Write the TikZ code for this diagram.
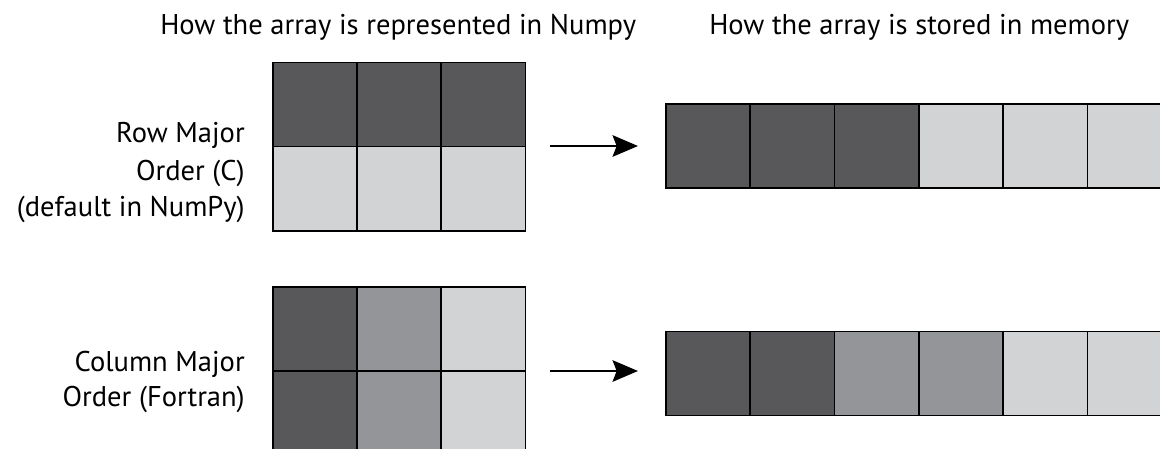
\documentclass[tikz,border=0pt]{standalone}
\usepackage{fontspec}
\setmainfont{PT Sans}
\usetikzlibrary{arrows.meta}
\definecolor{darkc}{HTML}{58585A}
\definecolor{midc}{HTML}{939598}
\definecolor{lightc}{HTML}{D1D3D4}
\begin{document}
\begin{tikzpicture}[x=0.75pt,y=-0.75pt,
  cell/.style={draw=black,line width=1.2pt,minimum width=63.2pt,minimum height=63.2pt,inner sep=0pt,outer sep=0pt},
  dk/.style={cell,fill=darkc},
  md/.style={cell,fill=midc},
  lt/.style={cell,fill=lightc},
  lbl/.style={align=right,anchor=base east,inner sep=0pt},
  ttl/.style={anchor=base west,inner sep=0pt,font=\fontsize{21.4pt}{25pt}\selectfont},
  arr/.style={line width=2.2pt,-{Stealth[length=19pt,width=16pt,inset=3pt]}}]
\useasboundingbox (0,0) rectangle (1160,449);
\fill[white] (0,0) rectangle (1160,449);
% titles
\node[ttl] (t1) at (160,35) {How the array is represented in Numpy};
\node[ttl] (t2) at (709,35) {How the array is stored in memory};
% labels
\node[lbl,font=\fontsize{21.4pt}{27.75pt}\selectfont] (l1) at (245,217) {Row Major\\Order (C)\\(default in NumPy)};
\node[lbl,font=\fontsize{21.4pt}{25.7pt}\selectfont] (l2) at (245,406) {Column Major\\Order (Fortran)};
% row-major matrix
\node[dk] (a11) at (314.85,104.45) {};
\node[dk] (a12) at (399.15,104.45) {};
\node[dk] (a13) at (483.45,104.45) {};
\node[lt] (a21) at (314.85,188.75) {};
\node[lt] (a22) at (399.15,188.75) {};
\node[lt] (a23) at (483.45,188.75) {};
% column-major matrix
\node[dk] (b11) at (314.85,328.85) {};
\node[md] (b12) at (399.15,328.85) {};
\node[lt] (b13) at (483.45,328.85) {};
\node[dk] (b21) at (314.85,413.15) {};
\node[md] (b22) at (399.15,413.15) {};
\node[lt] (b23) at (483.45,413.15) {};
% memory row-major
\node[dk] (m1) at (708.15,146.15) {};
\node[dk] (m2) at (792.45,146.15) {};
\node[dk] (m3) at (876.75,146.15) {};
\node[lt] (m4) at (961.05,146.15) {};
\node[lt] (m5) at (1045.35,146.15) {};
\node[lt] (m6) at (1129.65,146.15) {};
% memory column-major
\node[dk] (n1) at (708.15,373.5) {};
\node[dk] (n2) at (792.45,373.5) {};
\node[md] (n3) at (876.75,373.5) {};
\node[md] (n4) at (961.05,373.5) {};
\node[lt] (n5) at (1045.35,373.5) {};
\node[lt] (n6) at (1129.65,373.5) {};
% arrows
\coordinate (s1) at (550,146);
\coordinate (e1) at (638,146);
\coordinate (s2) at (550,371);
\coordinate (e2) at (638,371);
\draw[arr] (s1) -- (e1);
\draw[arr] (s2) -- (e2);
\end{tikzpicture}
\end{document}
